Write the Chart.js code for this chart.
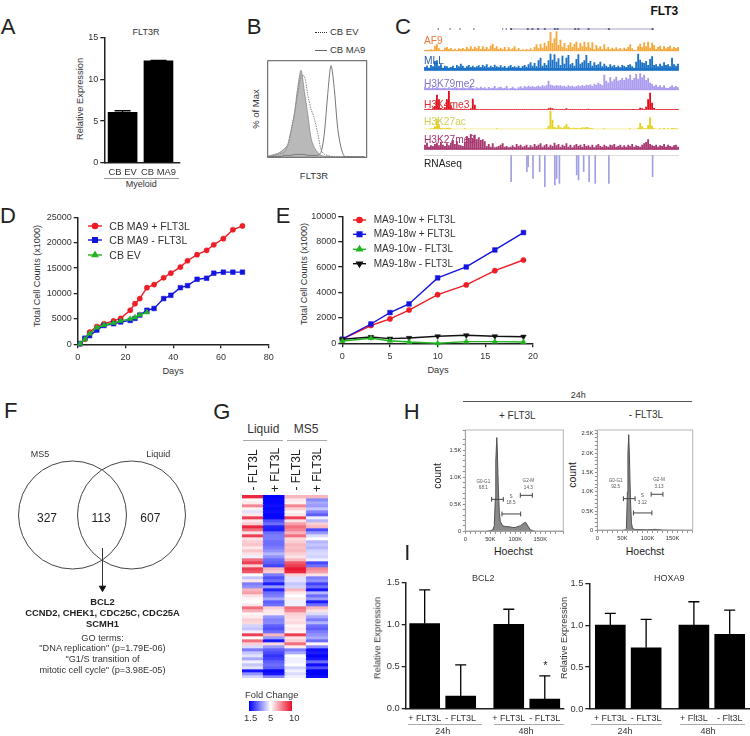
<!DOCTYPE html>
<html><head><meta charset="utf-8">
<script src="https://cdn.jsdelivr.net/npm/chart.js@4"></script>
<style>
html,body{margin:0;padding:0;background:#fff}
#page{position:relative;width:750px;height:736px;overflow:hidden;background:#fff;filter:blur(0.4px)}
canvas{position:absolute}
.t{position:absolute;white-space:pre;font-family:"Liberation Sans",Arial,sans-serif;line-height:1;color:#333}
.r{position:absolute}
</style></head><body><div id="page"></div>
<script>
// ---------- data ----------
const aCategories=['CB EV','CB MA9'];
const aValues=[6.05,12.25];
const aErrors=[0.2,0.05];
const aTicks=[0,5,10,15];

const bGrey=[1,2,3,4,6,9,13,27,45,72,90,68,45,20,10,5,2,1,1,0.5,0.5,0.5,0.5,0.5,0.5,0.5,0.5,0.5,0.5,0.5];
const bEV=[0.5,1,2,3,4,5,12,28,45,65,84,84,65,50,40,25,8,3,2,1,0.5,0.5,0.5,0.5,0.5,0.5,0.5,0.5,0.5,0.5];
const bMA9=[0.3,0.5,1,1,1,2,2,2,3,3,3,3,2,2,2,2,5,25,65,95,70,30,10,1,0.5,0.3,0.3,0.3,0.3,0.3];

const afTrack=[3,4,3,5,4,16,20,8,3,4,10,12,6,9,4,7,3,8,6,9,5,12,7,14,6,13,8,15,6,14,7,12,5,16,22,9,14,6,10,5,12,4,11,5,8,14,4,9,3,5,3,6,4,8,3,12,20,8,22,10,25,14,30,57,24,38,60,18,34,12,24,8,18,26,12,22,28,10,24,14,28,12,26,10,26,5,18,8,14,6,20,7,12,5,10,6,11,5,9,4,10,6,12,20,8,3,2,14,22,12,26,14,28,10,25,18,6,12,16,6,14,8,12,16,7,13,9,12];
const mllTrack=[10,14,8,16,12,28,30,14,18,8,14,12,8,10,14,7,16,12,20,14,8,12,16,10,14,9,12,15,10,16,12,18,9,14,10,17,12,10,15,9,13,8,12,16,10,12,9,14,8,13,16,11,18,24,14,22,12,30,38,14,22,16,30,50,32,48,26,36,16,44,20,38,46,18,22,14,34,48,20,24,30,46,22,28,14,24,16,18,26,12,20,14,10,18,12,16,10,14,9,16,13,10,16,18,12,8,26,50,32,24,22,28,16,34,42,16,18,12,20,14,24,16,18,12,38,18,14,20];
const k79Track=[10,6,9,5,8,6,10,7,5,6,7,5,8,5,6,9,7,5,6,8,6,5,8,10,6,4,8,5,10,6,8,4,9,5,7,12,5,8,10,5,7,12,4,6,10,5,3,8,11,7,12,9,13,10,12,9,11,13,10,14,11,14,28,16,14,12,15,13,14,11,13,10,14,11,13,10,12,14,11,15,12,16,14,17,12,18,16,22,18,14,46,28,22,38,26,32,40,28,30,36,30,38,34,46,30,36,48,34,50,38,46,30,36,22,18,12,16,10,14,8,14,7,6,10,14,9,12,8];
const k4Track=[1,1,2,1,3,10,44,30,4,2,6,30,55,12,3,2,2,1,2,1,2,1,1,3,32,14,1,1,1,1,1,1,1,1,1,1,1,1,1,1,1,1,1,1,1,1,1,1,1,1,1,1,1,1,1,1,1,1,1,1,1,1,3,5,3,1,1,1,1,1,1,3,1,1,1,1,1,1,1,1,1,1,2,1,1,1,1,1,1,1,1,1,1,1,1,1,1,1,1,1,1,1,1,1,1,1,1,1,5,3,1,8,30,50,20,4,1,1,1,1,1,1,1,1,1,1,1,1];
const k27acTrack=[1,1,1,2,2,8,30,14,3,2,2,3,4,2,1,1,1,1,1,1,2,1,1,1,1,1,1,1,1,1,1,1,1,1,1,1,2,1,1,1,1,1,1,1,1,1,1,1,1,1,1,1,1,1,1,1,1,1,1,1,1,2,10,55,28,6,4,12,5,3,8,15,7,3,2,4,3,2,3,5,4,6,5,3,2,1,1,1,1,1,2,1,1,1,1,1,1,1,1,1,1,1,1,2,1,1,1,4,18,8,2,2,12,35,10,2,1,1,2,1,3,1,2,1,3,2,2,1];
const k27meTrack=[14,20,8,12,10,16,20,12,22,14,10,18,12,20,28,16,24,14,12,10,22,40,34,46,32,44,30,36,28,30,24,10,16,8,18,6,8,10,14,18,8,10,6,8,12,7,16,10,14,8,10,14,6,12,8,16,10,14,18,8,12,16,8,14,10,20,12,16,8,14,10,18,8,14,6,12,16,10,14,8,16,10,12,8,14,6,12,16,10,8,14,10,8,14,12,16,8,10,14,8,12,8,14,10,16,8,12,10,8,14,18,22,30,16,12,10,14,8,12,10,16,8,14,10,8,12,14,8];
const rnaBins=[28.7,33.9,34.3,35.9,38.1,39.8,43.1,43.7,44.6,50.3,50.9,52.6,54.4,56.4,60.9,75.3];
const rnaDepth=[-80,-50,-35,-70,-50,-95,-90,-70,-85,-60,-75,-50,-80,-85,-85,-65];
const geneSpan=[28.7,75.3];
const geneExons=[28.7,34.2,35.7,37.6,39.8,43.1,44,49.8,50.9,54.2,60.9,75.3];
const geneOther=[4.7,8.6,11.9,16.4,25.9,27.1];

const dDays=[1,3,5,8,11,15,18,22,24,26,29,32,36,39,43,46,50,54,57,61,65,69];
const dRed=[100,1000,2400,3500,4050,4600,5100,6700,8000,9000,11150,11750,13100,14000,15200,16450,17650,18500,19600,20800,22550,23300];
const dBlue=[100,1200,1700,2800,3700,4050,4400,4700,5100,5750,6700,7050,9000,9650,11150,11550,12800,13000,14000,14200,14200,14200];
const dGreen=[100,1000,2100,3300,3800,4200,4600,5000,5300,5800,6300];

const eDays=[0,3,5,7,10,13,16,19];
const eRed=[320,1400,1920,2620,3830,4600,5720,6560];
const eBlue=[320,1520,2420,3100,5150,6010,7350,8720];
const eGreen=[180,400,200,100,0,130,130,100];
const eBlack=[320,500,370,420,550,630,550,520];

const vennX=[72.5,131.5];
const heatCols=['- FLT3L','+ FLT3L','- FLT3L','+ FLT3L'];
const heatRows=[[9.5,1.5,6.5,6.5],[5.2,1.6,5.5,3.4],[5.4,1.6,5.3,3.8],[7.5,1.7,7.5,3.6],[5.3,1.6,6,4.2],[4.6,1.7,5.2,3.3],[5.4,1.6,5.5,2.8],[9,1.6,9,4.8],[5.5,2.6,5.6,4],[6,3,7,6],[9.5,2,8,6.5],[8,1.9,7.5,2.5],[5.6,3,6.5,3.6],[9,3.2,8,4.5],[5.6,3.2,5.8,5],[6,3,6,4],[6.2,3,6.5,4.2],[5.5,3.2,6.3,4],[6.2,3.5,6.5,4.4],[5.6,4,6,4.5],[4.8,3.5,5.6,4.4],[8,3,6.5,4.8],[9,2.8,8.5,2.5],[6,2.4,9,3],[9,6.5,9.8,7.5],[8.5,6,9.5,7],[5,3.2,6,5.6],[4.2,2.6,4.6,3.2],[5.5,3,4.6,3.5],[3.2,1.9,4.2,2.4],[3.5,3.6,4.4,3],[6.5,2,6.5,1.8],[7,3,5.5,4],[5.6,3.2,5,3],[5.2,3.8,5.4,3.6],[5,2.8,4.8,1.9],[5.5,3,4.8,3],[8,6,8,6.5],[6.6,5.5,7.5,5.6],[5.2,5.4,6,4.5],[5.4,3.6,5.8,3.8],[6,3.3,5.6,3.2],[5.8,3.4,5.8,4],[4.4,2.8,5.2,3],[4.2,2.6,5.5,2.8],[4.8,3,5.2,3.2],[9,6.5,9,3.5],[5,3.6,5.6,3.8],[8,1.8,6,3],[6,5.8,8,5.2],[4.5,3.6,5.4,3.4],[3.2,2.8,3.2,1.7],[4.2,2.5,3.8,1.9],[4.6,2.2,5,1.6],[3.8,2.4,4.8,1.8],[4.8,2.8,4.8,3],[4.2,3,5,1.7],[4.6,2.8,4.4,2.6],[1.8,1.6,4.8,1.5],[3.5,1.8,4.5,1.5],[4.4,3.4,4.8,1.7]];

const hPlusX=[0,40,50,55,58,60,61,63,64,66,68,70,75,80,90,95,100,105,110,115,120.7,125,130,135,140,195];
const hPlusY=[0,0,0.01,0.03,0.1,0.6,1.3,1.73,1.5,0.8,0.35,0.18,0.1,0.09,0.08,0.07,0.07,0.09,0.1,0.14,0.166,0.1,0.03,0.01,0,0];
const hMinusX=[0,50,55,58,60,61,62.6,64,66,68,70,75,100,110,115,120,130,190];
const hMinusY=[0,0,0.01,0.05,1,2,2.48,1.9,0.8,0.2,0.05,0.02,0.015,0.02,0.025,0.02,0.005,0];
const hPlusGates=[[52.7,76,0.59],[73.3,110.7,0.32],[110,134,0.664]];
const hMinusGates=[[52,75.3,0.82],[72,108.7,0.45],[107.3,130.7,0.934]];

const iSlots=[0,3,7,10];
const bclLabels=['+ FLT3L','- FLT3L','+ FLT3L','- FLT3L'];
const bclValues=[1.01,0.15,1.0,0.115];
const bclErrors=[0.4,0.37,0.18,0.275];
const hoxLabels=['+ FLT3L','- FLT3L','+ Flt3L','- Flt3L'];
const hoxValues=[1.0,0.73,1.0,0.89];
const hoxErrors=[0.14,0.34,0.28,0.29];

// ---------- helpers ----------
const FF='"Liberation Sans",Arial,sans-serif';
const page=document.getElementById('page');
Chart.defaults.font.family=FF;
function T(x,y,s,o={}){
  const d=document.createElement('div');d.className='t';d.textContent=s;
  d.style.left=x+'px';d.style.top=y+'px';d.style.fontSize=(o.size||9)+'px';
  if(o.color)d.style.color=o.color;if(o.weight)d.style.fontWeight=o.weight;
  const ax=o.left?'0':'-50%';
  d.style.transform=`translate(${ax},-50%)`+(o.rot?` rotate(${o.rot}deg)`:'');
  page.appendChild(d);
}
function R(x,y,w,h,bg){const d=document.createElement('div');d.className='r';
  d.style.cssText+=`left:${x}px;top:${y}px;width:${w}px;height:${h}px;background:${bg}`;page.appendChild(d);return d;}
function mk(L,Tp,Rt,B,cfg){
  const ml=44,mr=24,mt=8,mb=22;
  const cx=Math.floor(L-ml),cy=Math.floor(Tp-mt),w=Math.ceil(Rt+mr)-cx,h=Math.ceil(B+mb)-cy;
  const c=document.createElement('canvas');c.width=w;c.height=h;
  c.style.left=cx+'px';c.style.top=cy+'px';c.style.width=w+'px';c.style.height=h+'px';page.appendChild(c);
  const o=cfg.options=cfg.options||{};
  o.responsive=false;o.animation=false;o.devicePixelRatio=1;o.events=[];
  o.layout={autoPadding:false,padding:{top:Tp-cy,right:w-(Rt-cx),left:0,bottom:0}};
  o.plugins=Object.assign({legend:{display:false},tooltip:{enabled:false},title:{display:false}},o.plugins||{});
  o.scales.x.afterFit=s=>{s.height=h-(B-cy)};
  o.scales.y.afterFit=s=>{s.width=L-cx};
  return new Chart(c.getContext('2d'),cfg);
}
function axis(min,max,extra={}){
  const {ticks,grid,border,...rest}=extra;
  return Object.assign({type:'linear',min,max,offset:false,
    grid:Object.assign({display:true,drawOnChartArea:false,drawTicks:true,tickLength:4,color:'#222',lineWidth:1.3,offset:false},grid||{}),
    border:Object.assign({display:true,color:'#222',width:1.5},border||{}),
    ticks:Object.assign({font:{size:9,family:FF},color:'#333',padding:2,maxRotation:0,minRotation:0,autoSkip:false,callback:v=>String(v)},ticks||{})},rest);
}
function hid(min,max,extra={}){
  return Object.assign({type:'linear',display:true,min,max,offset:false,ticks:{display:false},grid:{display:false,offset:false},border:{display:false}},extra);
}
function slotAxis(min,max,slots,labels,extra={}){
  return axis(min,max,Object.assign({
    afterBuildTicks:s=>{s.ticks=slots.map(v=>({value:v}))},
    ticks:Object.assign({callback:v=>labels[slots.indexOf(v)]},extra.ticks||{}),
    grid:{drawTicks:false}},extra.rest||{}));
}
const errPlugin={id:'err',afterDatasetsDraw(c){
  const ctx=c.ctx;
  c.data.datasets.forEach((d,i)=>{ if(!d.errUp)return;
    const m=c.getDatasetMeta(i),ys=c.scales.y;
    m.data.forEach((el,k)=>{
      const top=ys.getPixelForValue(d.data[k].y+d.errUp[k]),x=el.x;
      ctx.save();ctx.strokeStyle='#000';ctx.lineWidth=1.3;ctx.beginPath();
      ctx.moveTo(x,el.y);ctx.lineTo(x,top);ctx.moveTo(x-d.capW,top);ctx.lineTo(x+d.capW,top);ctx.stroke();ctx.restore();
    });
  });
}};
const frame=(color,lw)=>({id:'frame',afterDraw(c){const a=c.chartArea,x=c.ctx;x.save();x.strokeStyle=color;x.lineWidth=lw;
  x.strokeRect(a.left,a.top,a.right-a.left,a.bottom-a.top);x.restore();}});
const keys=(items)=>({id:'keys',afterDraw(c){const ctx=c.ctx,ox=c.canvas.offsetLeft,oy=c.canvas.offsetTop;
  items.forEach(k=>{ctx.save();ctx.strokeStyle=k.c;ctx.fillStyle=k.c;ctx.lineWidth=1.4;ctx.beginPath();
    ctx.moveTo(k.x0-ox,k.y-oy);ctx.lineTo(k.x1-ox,k.y-oy);ctx.stroke();
    Chart.helpers.drawPoint(ctx,{pointStyle:k.s,radius:k.r,rotation:k.rot||0,borderWidth:0.5},(k.x0+k.x1)/2-ox,k.y-oy);ctx.restore();});}});
const pts=(xs,ys)=>xs.map((x,i)=>({x,y:ys[i]}));
function series(label,xs,ys,color,style,order,rad,rot){return {label,data:pts(xs,ys),borderColor:color,backgroundColor:color,borderWidth:1.4,
  pointStyle:style,pointRadius:rad,pointBorderWidth:0.5,pointBackgroundColor:color,pointBorderColor:color,pointRotation:rot||0,order,tension:0,clip:false};}
const rC=2.6,rS=3.3,rTr=3.2;

// ---------- A ----------
T(8,27,'A',{size:22,color:'#222'});
T(146,32,'FLT3R',{size:9});
T(80.7,99,'Relative Expression',{size:9.3,rot:-90});
T(141.3,184,'Myeloid',{size:9});
R(104,178,75,1,'#999');
mk(104.3,38,180,162.7,{type:'bar',plugins:[errPlugin],data:{datasets:[{data:pts([1,2],aValues),backgroundColor:'#000',barThickness:29,errUp:aErrors,capW:8}]},
  options:{scales:{x:slotAxis(0.49,2.6,[1,2],aCategories,{ticks:{font:{size:9.4,family:FF},padding:4}}),
   y:axis(0,15,{afterBuildTicks:s=>{s.ticks=aTicks.map(v=>({value:v}))}})}}});

// ---------- B ----------
T(254,27,'B',{size:22,color:'#222'});
T(330,32.3,'CB EV',{size:9.5,left:1});T(330,50,'CB MA9',{size:9.5,left:1});
T(314,175.7,'FLT3R',{size:9.5});T(256,109,'% of Max',{size:9.5,rot:-90});
{const dd=R(315,32,12,0,'none');dd.style.borderTop='1.2px dotted #333';const ds=R(315,50,12,1,'#666');}
const bBins=bGrey.map((_,i)=>i);
mk(267.7,60.7,366.7,157.3,{type:'line',plugins:[frame('#555',1)],data:{datasets:[
   {label:'CB MA9',data:pts(bBins,bMA9),borderColor:'#777',borderWidth:1,pointRadius:0,tension:0.3,order:1},
   {label:'CB EV',data:pts(bBins,bEV),borderColor:'#888',borderWidth:1,borderDash:[1.5,1],pointRadius:0,tension:0.3,order:2},
   {label:'Isotype',data:pts(bBins,bGrey),borderColor:'#888',backgroundColor:'#b9b9b9',fill:'origin',borderWidth:0.8,pointRadius:0,tension:0.3,order:3}]},
  options:{scales:{x:hid(0,29.7),y:hid(0,100)}}});

// ---------- C ----------
T(403,27,'C',{size:22,color:'#222'});
T(664.3,11,'FLT3',{size:12,weight:'bold',color:'#111'});
function track(base,arr,color,floor){
  const xs=arr.map((_,i)=>i),n=arr.length-1;
  mk(424,base-20,679,base,{type:'bar',data:{datasets:[
     {type:'line',data:[{x:0,y:floor},{x:n,y:floor}],borderWidth:0,pointRadius:0,fill:'origin',backgroundColor:color},
     {data:pts(xs,arr),backgroundColor:color,barThickness:1.2}]},
    options:{scales:{x:hid(-0.5,n+0.5),y:hid(0,60)}}});
}
track(51.3,afTrack,'#f5a83c',2);track(70.7,mllTrack,'#1c72c6',8);track(90.3,k79Track,'#ab9aef',5);
track(109.7,k4Track,'#e0101f',1);track(129.3,k27acTrack,'#e2d21e',1);track(149.7,k27meTrack,'#a8386f',4);
mk(424,155,679,188.3,{type:'bar',data:{datasets:[
   {type:'line',data:[{x:0,y:0},{x:84,y:0}],borderColor:'#bbb',borderWidth:1,pointRadius:0},
   {data:pts(rnaBins,rnaDepth),backgroundColor:'#a0a0e4',barThickness:1}]},
  options:{scales:{x:hid(0,84),y:hid(-100,0)}}});
mk(424,26,679,32,{type:'line',data:{datasets:[
   {data:[{x:geneSpan[0],y:0},{x:geneSpan[1],y:0}],borderColor:'#8a8ab0',borderWidth:0.8,pointRadius:0},
   {data:geneExons.map(x=>({x,y:0})),showLine:false,pointStyle:'rect',pointRadius:1.4,pointBackgroundColor:'#4a4a8a',pointBorderWidth:0},
   {data:geneOther.map(x=>({x,y:0})),showLine:false,pointStyle:'rect',pointRadius:0.9,pointBackgroundColor:'#66668a',pointBorderWidth:0}]},
  options:{scales:{x:hid(0,84),y:hid(-1,1)}}});
[['AF9',41.3,'#ec7a3c'],['MLL',61.3,'#2a5ca8'],['H3K79me2',83.7,'#7b74c9'],['H3K4me3',105,'#e22a2a'],['H3K27ac',122.3,'#cfcf50'],['H3K27me3',140,'#a5316b'],['RNAseq',163.7,'#222']]
 .forEach(a=>T(424,a[1],a[0],{size:10.2,color:a[2],left:1}));

// ---------- D ----------
T(8,216,'D',{size:22,color:'#222'});
T(38,275.7,'Total Cell Counts (x1000)',{size:9.1,rot:-90});
T(173,372,'Days',{size:9.3});
mk(77.7,217.3,268.7,344.3,{type:'line',
  plugins:[keys([{x0:88,x1:102,y:226,c:'#ee1c25',s:'circle',r:rC},{x0:88,x1:102,y:240,c:'#1414e0',s:'rect',r:rS},{x0:88,x1:102,y:255,c:'#22b522',s:'triangle',r:rTr}])],
  data:{datasets:[series('CB MA9 + FLT3L',dDays,dRed,'#ee1c25','circle',3,rC),series('CB MA9 - FLT3L',dDays,dBlue,'#1414e0','rect',2,rS),series('CB EV',dDays.slice(0,dGreen.length),dGreen,'#22b522','triangle',1,rTr)]},
  options:{scales:{x:axis(0,80,{ticks:{stepSize:20,padding:4}}),y:axis(0,25000,{ticks:{stepSize:5000}})}}});
T(109.3,226,'CB MA9 + FLT3L',{size:10.5,left:1});T(109.3,240,'CB MA9 - FLT3L',{size:10.5,left:1});T(109.3,255,'CB EV',{size:10.5,left:1});

// ---------- E ----------
T(283,216,'E',{size:22,color:'#222'});
T(305,274,'Total Cell Counts (x1000)',{size:9.1,rot:-90});
T(438,371,'Days',{size:9.3});
mk(342.3,216.3,533,343.3,{type:'line',
  plugins:[keys([{x0:353,x1:366,y:220,c:'#ee1c25',s:'circle',r:rC},{x0:353,x1:366,y:234.3,c:'#1414e0',s:'rect',r:rS},{x0:353,x1:366,y:249.3,c:'#22b522',s:'triangle',r:rTr},{x0:353,x1:366,y:263.7,c:'#111',s:'triangle',r:rTr,rot:180}])],
  data:{datasets:[series('MA9-10w + FLT3L',eDays,eRed,'#ee1c25','circle',4,rC),series('MA9-18w + FLT3L',eDays,eBlue,'#1414e0','rect',3,rS),series('MA9-10w - FLT3L',eDays,eGreen,'#22b522','triangle',1,rTr),series('MA9-18w - FLT3L',eDays,eBlack,'#111','triangle',2,rTr,180)]},
  options:{scales:{x:axis(0,20,{ticks:{stepSize:5,padding:4}}),y:axis(0,10000,{ticks:{stepSize:2000}})}}});
[['MA9-10w + FLT3L',220],['MA9-18w + FLT3L',234.3],['MA9-10w - FLT3L',249.3],['MA9-18w - FLT3L',263.7]].forEach(a=>T(373.7,a[1],a[0],{size:10,left:1}));

// ---------- F ----------
T(10.7,410.7,'F',{size:22,color:'#222'});
mk(0,455,210,600,{type:'scatter',data:{datasets:[
   {data:vennX.map(x=>({x,y:515})),pointRadius:54,pointBackgroundColor:'rgba(0,0,0,0)',pointBorderColor:'#444',pointBorderWidth:1,clip:false},
   {type:'line',data:[{x:102.5,y:548},{x:102.5,y:588}],borderColor:'#333',borderWidth:1,pointRadius:[0,3.6],pointStyle:'triangle',pointRotation:180,pointBackgroundColor:'#111',pointBorderColor:'#111'}]},
  options:{scales:{x:hid(0,210),y:hid(455,600,{reverse:true})}}});
T(40,454,'MS5',{size:9});T(158.3,454,'Liquid',{size:9});
T(47,517.7,'327',{size:12,color:'#222'});T(101,517.7,'113',{size:12,color:'#222'});T(150.3,517.7,'607',{size:12,color:'#222'});
T(102.5,602,'BCL2',{size:9.4,weight:'bold',color:'#222'});
T(102.5,613.3,'CCND2, CHEK1, CDC25C, CDC25A',{size:9.4,weight:'bold',color:'#222'});
T(102.5,624,'SCMH1',{size:9.4,weight:'bold',color:'#222'});
T(102.5,638.5,'GO terms:',{size:9.2});
T(102.5,649,'"DNA replication" (p=1.79E-06)',{size:9.2});
T(102.5,659.5,'"G1/S transition of',{size:9.2});
T(102.5,670.5,'mitotic cell cycle" (p=3.98E-05)',{size:9.2});

// ---------- G ----------
T(221.7,411.7,'G',{size:22,color:'#222'});
T(263.3,429,'Liquid',{size:12});T(306,429,'MS5',{size:12});
R(242.7,440,40,1,'#aaa');R(287.3,440,40,1,'#aaa');
[253.3,275,296,317.3].forEach((x,i)=>T(x,470,heatCols[i],{size:12,rot:-90,color:'#222'}));
function heatColor(v){
  if(v<=5){const f=(v-1.5)/3.5;const c=Math.round(255*f);return `rgb(${c},${c},255)`;}
  const f=(v-5)/5;return `rgb(${Math.round(255-23*f)},${Math.round(255-240*f)},${Math.round(255-215*f)})`;
}
mk(242,495,328,678,{type:'bar',data:{labels:heatCols.map((c,i)=>c+' '+i),datasets:heatRows.map(r=>({data:r.map(()=>1),backgroundColor:r.map(heatColor),barThickness:22,borderWidth:0,stack:'a'}))},
  options:{scales:{x:{stacked:true,display:true,ticks:{display:false},grid:{display:false},border:{display:false}},y:hid(0,heatRows.length,{stacked:true,reverse:true})}}});
T(271.7,695.7,'Fold Change',{size:9.3});
{const g=R(249.3,701,43,9.5,'');g.style.background='linear-gradient(90deg,#0000ff,#ffffff 50%,#e80f28)';}
T(250.7,717.7,'1.5',{size:9.5});T(270.7,717.7,'5',{size:9.5});T(294.3,717.7,'10',{size:9.5});

// ---------- H ----------
T(411.7,411.7,'H',{size:22,color:'#222'});
T(578.3,395,'24h',{size:9});R(463.3,401,229,1,'#555');
T(517.3,416,'+ FLT3L',{size:10});T(646,415,'- FLT3L',{size:10});
T(436.7,475.7,'count',{size:10.5,rot:-90,color:'#222'});T(571.7,475,'count',{size:10.5,rot:-90,color:'#222'});
T(513.3,551,'Hoechst',{size:10.5,color:'#222'});T(645,551,'Hoechst',{size:10.5,color:'#222'});
function gateSets(g){return g.map(a=>({type:'line',data:[{x:a[0],y:a[2]},{x:a[1],y:a[2]}],borderColor:'#444',borderWidth:1,pointStyle:'line',pointRotation:90,pointRadius:2.4,pointBorderColor:'#444',pointBorderWidth:1}));}
function flowChart(L,Tt,Rr,B,xs,ys,gates,xMax,yMax){
  const yAxis=axis(0,yMax,{ticks:{stepSize:0.1,font:{size:5.8,family:FF},padding:1.5,color:'#333',
      callback:v=>{const t=Math.round(v*10);return t===0?'0':(t%5===0?(t/10).toFixed(1)+'K':'')}},grid:{tickLength:2.5,color:'#555',lineWidth:0.7},border:{color:'#555',width:1}});
  const xAxis=axis(0,xMax,{ticks:{stepSize:10,font:{size:5.8,family:FF},padding:2,color:'#333',
      callback:v=>{const t=Math.round(v);return t===0?'0':(t%50===0?t+'K':'')}},grid:{tickLength:2.5,color:'#555',lineWidth:0.7},border:{color:'#555',width:1}});
  mk(L,Tt,Rr,B,{type:'line',plugins:[frame('#b5b5b5',1)],data:{datasets:[
     ...gateSets(gates),
     {data:pts(xs,ys),borderColor:'#505050',backgroundColor:'#8a8a8a',fill:'origin',borderWidth:1,pointRadius:0,tension:0}]},
    options:{scales:{x:xAxis,y:yAxis}}});
}
flowChart(465.3,430,563.3,531.3,hPlusX,hPlusY,hPlusGates,196,1.87);
flowChart(597.3,430,692.7,530.3,hMinusX,hMinusY,hMinusGates,190,2.6);
[[483.3,481.7,487.7,'G0-G1','68.1'],[511,496.7,503.3,'S','18.5'],[528.3,481.3,488,'G2-M','14.3'],[615.7,481,487.3,'G0-G1','92.5'],[642.3,496,502.7,'S','3.12'],[659,480.3,486.7,'G2-M','3.13']]
 .forEach(a=>{T(a[0],a[1],a[3],{size:4.6,color:'#555'});T(a[0],a[2],a[4],{size:4.6,color:'#555'});});

// ---------- I ----------
T(407.3,553.3,'I',{size:22,color:'#222'});
function iChart(L,B,Tp,Rt,vals,errs,labels,min,max){
  mk(L,Tp,Rt,B,{type:'bar',plugins:[errPlugin],data:{datasets:[{data:pts(iSlots,vals),backgroundColor:'#000',barThickness:30,errUp:errs,capW:5.5}]},
   options:{scales:{x:slotAxis(min,max,iSlots,labels,{ticks:{font:{size:9,family:FF},padding:4}}),
     y:axis(0,1.5,{ticks:{stepSize:0.5,callback:v=>v.toFixed(1),font:{size:9.3,family:FF}}})}}});
}
iChart(405.7,708.7,582.3,564,bclValues,bclErrors,bclLabels,-1.58,11.6);
iChart(589.3,709,583.3,750,hoxValues,hoxErrors,hoxLabels,-1.76,11.7);
T(483.3,578,'BCL2',{size:9});T(669.3,578,'HOXA9',{size:9});
T(377.7,638,'Relative Expression',{size:9.3,rot:-90});T(565,638,'Relative Expression',{size:9.3,rot:-90});
T(545.3,665,'*',{size:11,color:'#222'});
R(408.3,724,73.5,1,'#aaa');R(494,724,69.5,1,'#aaa');R(591,724,70.5,1,'#aaa');R(680,724,65,1,'#aaa');
T(442.7,730.7,'24h',{size:9});T(526,730.7,'48h',{size:9});T(625,731,'24h',{size:9});T(708,731,'48h',{size:9});
</script></body></html>
